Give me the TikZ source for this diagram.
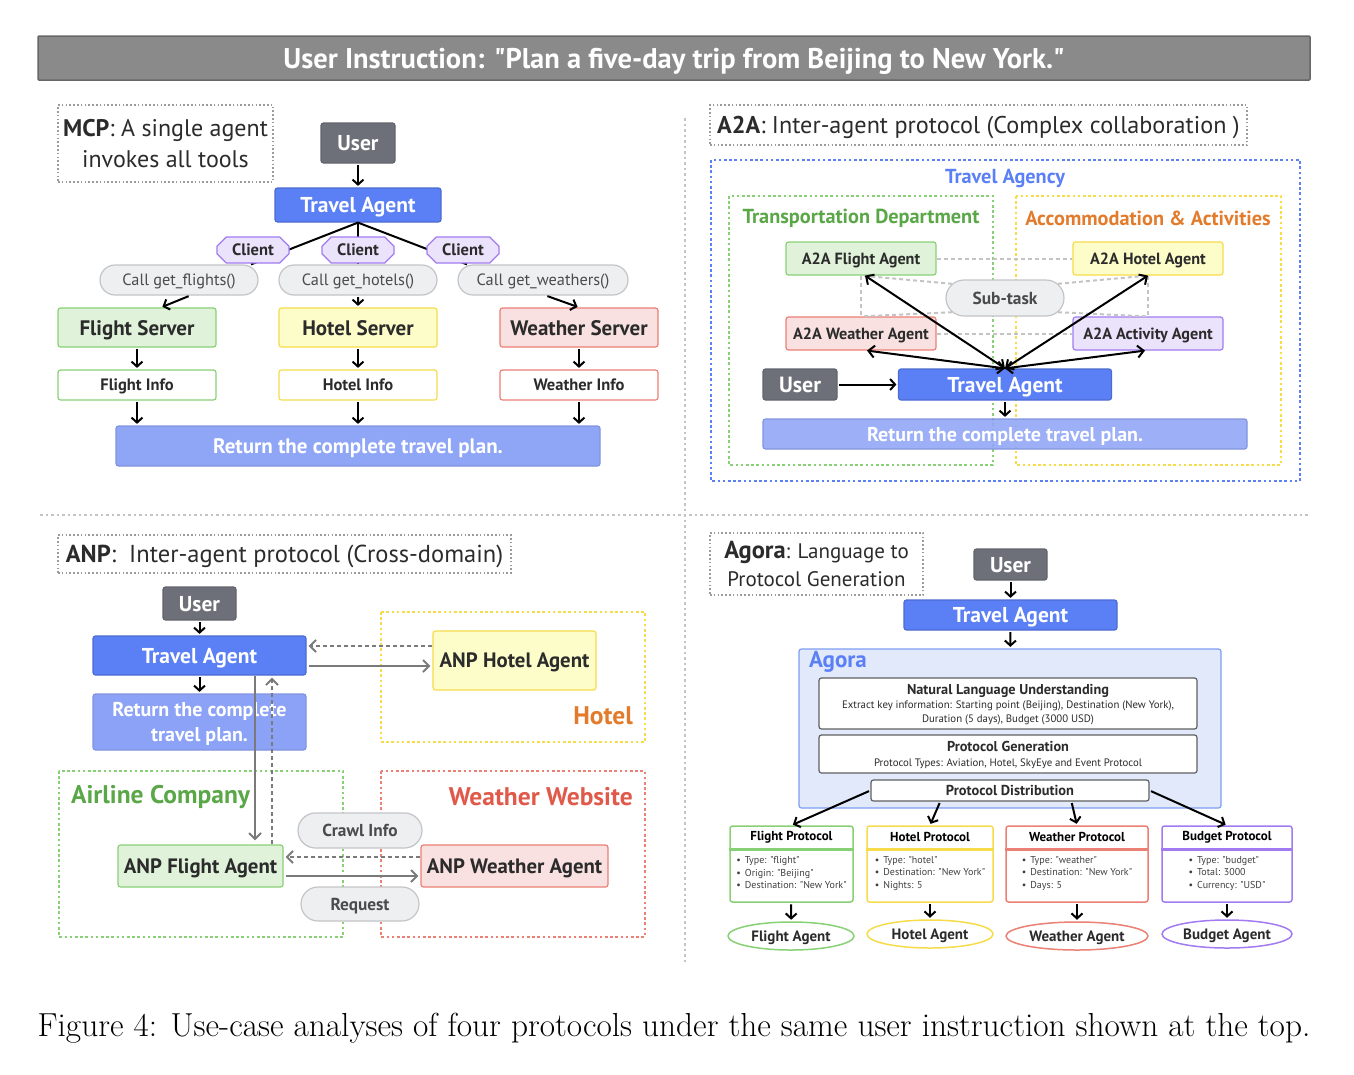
\documentclass[tikz,border=0pt]{standalone}
\usepackage{fontspec}
\setsansfont{PT Sans}
\renewcommand{\familydefault}{\sfdefault}
\usetikzlibrary{shapes.misc,shapes.geometric,arrows.meta,calc}

\definecolor{usergray}{HTML}{6E7079}
\definecolor{agentblue}{HTML}{5B7FF5}
\definecolor{returnblue}{HTML}{8FA5F6}
\definecolor{titlegray}{HTML}{8A8A8A}
\definecolor{greenfill}{HTML}{E0F3DA}
\definecolor{greenline}{HTML}{88D074}
\definecolor{greentext}{HTML}{5AA748}
\definecolor{yellowfill}{HTML}{FDFDC9}
\definecolor{yellowline}{HTML}{F6DC4A}
\definecolor{redfill}{HTML}{F8E1E0}
\definecolor{redline}{HTML}{EB8074}
\definecolor{redtext}{HTML}{E05A4B}
\definecolor{purplefill}{HTML}{EBE3FC}
\definecolor{purpleline}{HTML}{A27BF1}
\definecolor{orangetext}{HTML}{E27C2C}
\definecolor{pillfill}{HTML}{EEEFF1}
\definecolor{pillline}{HTML}{C3C4C7}
\definecolor{agorafill}{HTML}{E1E9FB}
\definecolor{agoraline}{HTML}{7D9EF2}
\definecolor{txtdark}{HTML}{2B2B2B}
\definecolor{dotgray}{HTML}{9B9B9B}
\definecolor{arrowgray}{HTML}{7A7A7A}
\definecolor{dashgray}{HTML}{C4C4C4}

\newcommand{\fsz}[1]{\fontsize{#1}{\fpeval{1.25*#1}}\selectfont}
\newcommand{\qq}{\textquotedbl}

\tikzset{
  boxbase/.style={draw, rounded corners=2.5pt, line width=1.2pt, align=center, inner sep=0pt, text depth=0pt, text=txtdark},
  wh/.style 2 args={minimum width=#1pt, minimum height=#2pt},
  titlebar/.style={boxbase, rounded corners=1pt, fill=titlegray, draw=titlegray!75!black, line width=1.5pt, text=white, font=\bfseries\fsz{28.5}},
  usernode/.style={boxbase, fill=usergray, draw=usergray!90!black, text=white, font=\bfseries\fsz{21.5}},
  agentnode/.style={boxbase, fill=agentblue, draw=agentblue!85!black, text=white, font=\bfseries\fsz{21.5}},
  retnode/.style={boxbase, fill=returnblue, draw=returnblue!90!black, text=white, font=\bfseries\fsz{21}},
  greennode/.style={boxbase, fill=greenfill, draw=greenline},
  yellownode/.style={boxbase, fill=yellowfill, draw=yellowline},
  rednode/.style={boxbase, fill=redfill, draw=redline},
  purplenode/.style={boxbase, fill=purplefill, draw=purpleline},
  pill/.style={rounded rectangle, draw=pillline, fill=pillfill, line width=1.2pt, inner sep=0pt, text depth=0pt, text=txtdark!85},
  client/.style={chamfered rectangle, chamfered rectangle xsep=10pt, draw=purpleline, fill=purplefill, line width=1.2pt, inner sep=0pt, text depth=0pt, minimum width=72pt, minimum height=26pt, font=\bfseries\fsz{16.5}, text=txtdark},
  labelbox/.style={draw=dotgray, dash pattern=on 1.6pt off 2.2pt, line width=1.8pt, align=center, inner sep=0pt, text depth=0pt, text=txtdark},
  groupbox/.style={dash pattern=on 2.6pt off 2.6pt, line width=2pt},
  grouptitle/.style={font=\bfseries\fsz{20.3}, inner sep=0pt},
  divider/.style={draw=dashgray, dash pattern=on 2.5pt off 3pt, line width=2.5pt},
  link/.style={line width=2pt},
  arr/.style={-{Straight Barb[length=5pt,width=11pt]}, line width=2pt, shorten >=1.5pt, shorten <=1.5pt},
  twoway/.style={{Straight Barb[length=6pt,width=12pt]}-{Straight Barb[length=6pt,width=12pt]}, line width=2pt},
  grayarr/.style={-{Straight Barb[length=6pt,width=12pt]}, draw=arrowgray, line width=2pt},
  grayback/.style={grayarr, dash pattern=on 4pt off 3pt},
  subdash/.style={draw=dashgray, dash pattern=on 4pt off 3pt, line width=2pt},
  protbox/.style={boxbase, fill=white, line width=1.5pt, wh={#1}{76}},
  prottitle/.style={font=\bfseries\fsz{13}, inner sep=0pt},
  protitems/.style={font=\fontsize{10}{12.5}\selectfont, align=left, anchor=north, inner sep=0pt, text=txtdark!90},
  protagent/.style={ellipse, draw, fill=white, line width=1.5pt, inner sep=0pt, text depth=0pt, font=\bfseries\fsz{15}, text=txtdark}
}

\begin{document}
\begin{tikzpicture}[x=1pt,y=-1pt]
\useasboundingbox (0,0) rectangle (1354,1074);

% instruction banner
\node[titlebar, wh={1272}{44}] (instr) at (674,58) {User Instruction: \qq Plan a five-day trip from Beijing to New York.\qq};

% quadrant dividers
\draw[divider] (685,118) -- (685,962);
\draw[divider] (40,515) -- (1308,515);

% ---------------- MCP ----------------
\node[labelbox, wh={215}{77}, font=\fontsize{24}{31}\selectfont] (mcplbl) at (165.5,143.5) {\textbf{MCP}: A single agent\\invokes all tools};
\node[usernode, wh={74}{40}] (mcpuser) at (358,143) {User};
\node[agentnode, wh={166}{34}] (mcpagent) at (358,205) {Travel Agent};
\node[pill, wh={158}{30}, font=\fsz{16.3}] (callf) at (179,280) {Call get\_flights()};
\node[pill, wh={158}{30}, font=\fsz{16.3}] (callh) at (358,280) {Call get\_hotels()};
\node[pill, wh={170}{30}, font=\fsz{16.3}] (callw) at (543,280) {Call get\_weathers()};
\draw[link] (mcpagent.south) -- ([xshift=8pt]callf.north east);
\draw[link] (mcpagent.south) -- (callh.north);
\draw[link] (mcpagent.south) -- ([xshift=-6pt]callw.north west);
\node[client] (clf) at (253,250) {Client};
\node[client] (clh) at (358,250) {Client};
\node[client] (clw) at (463,250) {Client};
\draw[arr] (mcpuser) -- (mcpagent);

\node[greennode, wh={158}{39}, font=\bfseries\fsz{21}] (fsrv) at (137,327.5) {Flight Server};
\node[yellownode, wh={158}{39}, font=\bfseries\fsz{21}] (hsrv) at (358,327.5) {Hotel Server};
\node[rednode, wh={158}{39}, font=\bfseries\fsz{21}] (wsrv) at (579,327.5) {Weather Server};
\draw[arr] ([xshift=11pt]callf.south) -- ([xshift=24pt]fsrv.north);
\draw[arr] (callh) -- (hsrv);
\draw[arr] ([xshift=3pt]callw.south) -- (wsrv.north);

\node[boxbase, draw=greenline, wh={158}{30}, font=\bfseries\fsz{16.5}] (finfo) at (137,385) {Flight Info};
\node[boxbase, draw=yellowline, wh={158}{30}, font=\bfseries\fsz{16.5}] (hinfo) at (358,385) {Hotel Info};
\node[boxbase, draw=redline, wh={158}{30}, font=\bfseries\fsz{16.5}] (winfo) at (579,385) {Weather Info};
\draw[arr] (fsrv) -- (finfo);
\draw[arr] (hsrv) -- (hinfo);
\draw[arr] (wsrv) -- (winfo);

\node[retnode, wh={484}{40}] (mcpret) at (358,446) {Return the complete travel plan.};
\draw[arr] (finfo.south) -- (finfo.south |- mcpret.north);
\draw[arr] (hinfo.south) -- (mcpret.north);
\draw[arr] (winfo.south) -- (winfo.south |- mcpret.north);

% ---------------- A2A ----------------
\node[labelbox, wh={537}{40}, font=\fsz{24.2}] (a2albl) at (978.5,125) {\textbf{A2A}: Inter-agent protocol (Complex collaboration )};
\draw[groupbox, draw=agentblue] (711,160) rectangle (1300,481);
\node[grouptitle, text=agentblue] (agency) at (1005,178) {Travel Agency};
\draw[groupbox, draw=greenline] (729,196) rectangle (993,465);
\node[grouptitle, text=greentext] (transport) at (861,218) {Transportation Department};
\draw[groupbox, draw=yellowline] (1016,196) rectangle (1281,465);
\node[grouptitle, text=orangetext] (accom) at (1148,218) {Accommodation \& Activities};

\node[greennode, wh={150}{33}, font=\bfseries\fsz{16.2}] (fagent) at (861,258.5) {A2A Flight Agent};
\node[yellownode, wh={150}{33}, font=\bfseries\fsz{16.2}] (hagent) at (1148,258.5) {A2A Hotel Agent};
\node[rednode, wh={150}{33}, font=\bfseries\fsz{16.2}] (wagent) at (861,333.5) {A2A Weather Agent};
\node[purplenode, wh={150}{33}, font=\bfseries\fsz{16.2}] (aagent) at (1148,333.5) {A2A Activity Agent};
\node[pill, wh={118}{36}, font=\bfseries\fsz{17.4}] (subtask) at (1005,298) {Sub-task};

\draw[subdash] (fagent) -- (hagent);
\draw[subdash] (wagent) -- (aagent);
\draw[subdash] (fagent) -- (wagent);
\draw[subdash] (hagent) -- (aagent);
\draw[subdash] (subtask.165) -- (fagent.south);
\draw[subdash] (subtask.195) -- (wagent.north);
\draw[subdash] (subtask.15) -- (hagent.south);
\draw[subdash] (subtask.-15) -- (aagent.north);

\node[usernode, wh={74}{31}, font=\bfseries\fsz{22}] (a2auser) at (800,384.5) {User};
\node[agentnode, wh={213}{31}] (a2aagent) at (1005,384.5) {Travel Agent};
\draw[twoway] (a2aagent.north) -- ([xshift=4pt]fagent.south);
\draw[twoway] (a2aagent.north) -- (hagent.south);
\draw[twoway] (a2aagent.north) -- ([xshift=6pt]wagent.south);
\draw[twoway] (a2aagent.north) -- ([xshift=-3pt]aagent.south);
\draw[arr] (a2auser) -- (a2aagent);
\node[retnode, fill opacity=0.88, text opacity=1, wh={484}{30}, font=\bfseries\fsz{20}] (a2aret) at (1005,434) {Return the complete travel plan.};
\draw[arr] (a2aagent) -- (a2aret);

% ---------------- ANP ----------------
\node[labelbox, wh={453}{38}, font=\fsz{24.5}] (anplbl) at (284.5,554) {\textbf{ANP}:\ \ Inter-agent protocol (Cross-domain)};
\node[usernode, wh={73}{33}] (anpuser) at (199.5,603.5) {User};
\node[agentnode, wh={213}{39}] (anpagent) at (199.5,655.5) {Travel Agent};
\node[retnode, wh={213}{56}, font=\bfseries\fontsize{20}{25}\selectfont, fill=returnblue!92!agentblue] (anpret) at (199.5,722) {Return the complete\\travel plan.};
\draw[arr] (anpuser) -- (anpagent);
\draw[arr] (anpagent) -- (anpret);

\draw[groupbox, draw=yellowline] (381,612) rectangle (645,742);
\node[grouptitle, font=\bfseries\fsz{25.5}, text=orangetext, anchor=east] (hotelgrp) at (633,716) {Hotel};
\draw[groupbox, draw=greenline] (59,771) rectangle (343,937);
\node[grouptitle, font=\bfseries\fsz{25.5}, text=greentext, anchor=west] (airgrp) at (71,797) {Airline Company};
\draw[groupbox, draw=redline] (381,771) rectangle (645,937);
\node[grouptitle, font=\bfseries\fsz{25.5}, text=redtext, anchor=east] (weathergrp) at (633,797) {Weather Website};

\node[yellownode, wh={163}{59}, font=\bfseries\fsz{20.8}] (anphotel) at (514.5,660.5) {ANP Hotel Agent};
\node[greennode, wh={165}{42}, font=\bfseries\fsz{20.8}] (anpflight) at (200.5,866) {ANP Flight Agent};
\node[rednode, wh={187}{42}, font=\bfseries\fsz{20.8}] (anpweather) at (514.5,866) {ANP Weather Agent};
\node[pill, wh={124}{35}, font=\bfseries\fsz{17.3}] (crawl) at (360,830.5) {Crawl Info};
\node[pill, wh={118}{34}, font=\bfseries\fsz{17.3}] (request) at (360,904) {Request};

\draw[grayback] ([yshift=14.5pt]anphotel.west) -- ([yshift=9.5pt,xshift=2pt]anpagent.east);
\draw[grayarr] ([yshift=-10.5pt,xshift=2pt]anpagent.east) -- ([yshift=-5.5pt,xshift=-2pt]anphotel.west);
\draw[grayarr] ([xshift=55.5pt]anpagent.south) -- ([xshift=54.5pt,yshift=4pt]anpflight.north);
\draw[grayback] ([xshift=71.5pt]anpflight.north) -- ([xshift=72.5pt,yshift=-2pt]anpagent.south);
\draw[grayback] ([yshift=9pt]anpweather.west) -- ([yshift=9pt,xshift=2pt]anpflight.east);
\draw[grayarr] ([yshift=-10pt,xshift=2pt]anpflight.east) -- ([yshift=-10pt,xshift=-2pt]anpweather.west);

% ---------------- Agora ----------------
\node[labelbox, wh={213}{62}, font=\fontsize{21}{28}\selectfont] (agoralbl) at (816.5,564) {{\bfseries\fsz{24.5}Agora}: Language to\\Protocol Generation};
\node[usernode, wh={73}{31}] (agorauser) at (1010.5,564.5) {User};
\node[agentnode, wh={213}{30}] (agoraagent) at (1010.5,615) {Travel Agent};
\node[boxbase, fill=agorafill, draw=agoraline, wh={422}{159}] (agora) at (1010,728.5) {};
\node[grouptitle, font=\bfseries\fsz{23}, text=agentblue, anchor=west] (agoratitle) at (809,662) {Agora};
\draw[arr] (agorauser) -- (agoraagent);
\draw[arr] (agoraagent) -- (agora);

\node[boxbase, fill=white, draw=txtdark!75, wh={378}{51}, font=\fontsize{10.8}{14}\selectfont] (nlu) at (1008,703.5) {{\bfseries\fsz{14.3}Natural Language Understanding}\\Extract key information: Starting point (Beijing), Destination (New York),\\Duration (5 days), Budget (3000 USD)};
\node[boxbase, fill=white, draw=txtdark!75, wh={378}{38}, font=\fontsize{10.8}{15}\selectfont] (protgen) at (1008,754) {{\bfseries\fsz{14.3}Protocol Generation}\\Protocol Types: Aviation, Hotel, SkyEye and Event Protocol};
\node[boxbase, fill=white, draw=txtdark!75, wh={278}{21}, font=\bfseries\fsz{14.4}] (protdist) at (1010,790.5) {Protocol Distribution};

% protocol cards
\node[protbox=123, draw=greenline] (fprot) at (791.5,864) {};
\node[prottitle] (fprottitle) at ([yshift=-12pt]fprot.north) {Flight Protocol};
\draw[greenline, line width=2.5pt] ([yshift=-24pt]fprot.north west) -- ([yshift=-24pt]fprot.north east);
\node[protitems] (fprotitems) at ([yshift=-31pt]fprot.north) {\textbullet\hspace{4pt}Type: \qq flight\qq\\\textbullet\hspace{4pt}Origin: \qq Beijing\qq\\\textbullet\hspace{4pt}Destination: \qq New York\qq};

\node[protbox=126, draw=yellowline] (hprot) at (930,864) {};
\node[prottitle] (hprottitle) at ([yshift=-12pt]hprot.north) {Hotel Protocol};
\draw[yellowline, line width=2.5pt] ([yshift=-24pt]hprot.north west) -- ([yshift=-24pt]hprot.north east);
\node[protitems] (hprotitems) at ([yshift=-31pt]hprot.north) {\textbullet\hspace{4pt}Type: \qq hotel\qq\\\textbullet\hspace{4pt}Destination: \qq New York\qq\\\textbullet\hspace{4pt}Nights: 5};

\node[protbox=142, draw=redline] (wprot) at (1077,864) {};
\node[prottitle] (wprottitle) at ([yshift=-12pt]wprot.north) {Weather Protocol};
\draw[redline, line width=2.5pt] ([yshift=-24pt]wprot.north west) -- ([yshift=-24pt]wprot.north east);
\node[protitems] (wprotitems) at ([yshift=-31pt]wprot.north) {\textbullet\hspace{4pt}Type: \qq weather\qq\\\textbullet\hspace{4pt}Destination: \qq New York\qq\\\textbullet\hspace{4pt}Days: 5};

\node[protbox=130, draw=purpleline] (bprot) at (1227,864) {};
\node[prottitle] (bprottitle) at ([yshift=-12pt]bprot.north) {Budget Protocol};
\draw[purpleline, line width=2.5pt] ([yshift=-24pt]bprot.north west) -- ([yshift=-24pt]bprot.north east);
\node[protitems] (bprotitems) at ([yshift=-31pt]bprot.north) {\textbullet\hspace{4pt}Type: \qq budget\qq\\\textbullet\hspace{4pt}Total: 3000\\\textbullet\hspace{4pt}Currency: \qq USD\qq};

\draw[arr] (protdist.west) -- (fprot.north);
\draw[arr] ($(protdist.south west)!0.25!(protdist.south east)$) -- (hprot.north);
\draw[arr] ($(protdist.south west)!0.72!(protdist.south east)$) -- (wprot.north);
\draw[arr] (protdist.east) -- (bprot.north);

\node[protagent, draw=greenline, wh={126}{28}] (fagentell) at (791,936) {Flight Agent};
\node[protagent, draw=yellowline, wh={126}{28}] (hagentell) at (930,934) {Hotel Agent};
\node[protagent, draw=redline, wh={142}{28}] (wagentell) at (1077,936) {Weather Agent};
\node[protagent, draw=purpleline, wh={130}{28}] (bagentell) at (1227,934) {Budget Agent};
\draw[arr] (fprot) -- (fagentell);
\draw[arr] (hprot) -- (hagentell);
\draw[arr] (wprot) -- (wagentell);
\draw[arr] (bprot) -- (bagentell);

% caption
\node[font=\rmfamily\fontsize{33.3}{40}\selectfont, inner sep=0pt] (caption) at (674,1028) {Figure 4: Use-case analyses of four protocols under the same user instruction shown at the top.};
\end{tikzpicture}
\end{document}
